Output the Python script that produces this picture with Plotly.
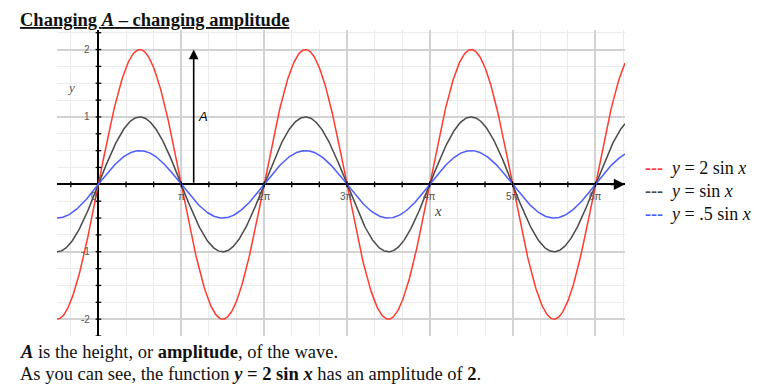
import numpy as np
import plotly.graph_objects as go

PI = np.pi
# Data
amplitudes = [2, 1, 0.5]
series_names = ["y = 2 sin x", "y = sin x", "y = .5 sin x"]
legend_html = ["<i>y</i> = 2 sin <i>x</i>", "<i>y</i> = sin <i>x</i>", "<i>y</i> = .5 sin <i>x</i>"]
colors = ["#ff3b30", "#4a4a4a", "#4d5cff"]
x_tick_multiples = [0, 1, 2, 3, 4, 5, 6]
x_tick_labels = ["0", "π", "2π", "3π", "4π", "5π", "6π"]
y_tick_values = [-2, -1, 1, 2]
y_tick_labels = ["-2", "-1", "1", "2"]

x_min, x_max = -PI / 2, 6 * PI + 1.12
y_min, y_max = -2.25, 2.29

xs = np.linspace(x_min, x_max, 800)

fig = go.Figure()
for a, name, c in zip(amplitudes, series_names, colors):
    fig.add_trace(go.Scatter(x=xs, y=a * np.sin(xs), mode="lines", name=name,
                             line=dict(color=c, width=1.5), hoverinfo="skip"))

# axis tick marks
xt = [k * PI / 3 for k in range(-1, 20) if k != 0 and k * PI / 3 < x_max - 0.3]
fig.add_trace(go.Scatter(x=xt, y=[0] * len(xt), mode="markers",
                         marker=dict(symbol="line-ns", size=4, line=dict(color="black", width=1.3)),
                         hoverinfo="skip"))
yt = [k * 0.25 for k in range(-9, 10) if k != 0]
fig.add_trace(go.Scatter(x=[0] * len(yt), y=yt, mode="markers",
                         marker=dict(symbol="line-ew", size=4, line=dict(color="black", width=1.3)),
                         hoverinfo="skip"))

fig.update_xaxes(range=[x_min, x_max], tick0=0, dtick=PI, showticklabels=False,
                 showgrid=True, gridcolor="#d2d2d2", gridwidth=1.5,
                 minor=dict(tick0=0, dtick=PI / 3, showgrid=True, gridcolor="#ebebeb", gridwidth=1),
                 zeroline=True, zerolinecolor="black", zerolinewidth=1.8, ticks="",
                 showline=False, fixedrange=True)
fig.update_yaxes(range=[y_min, y_max], tick0=0, dtick=1, showticklabels=False,
                 showgrid=True, gridcolor="#d2d2d2", gridwidth=1.5,
                 minor=dict(tick0=0, dtick=0.25, showgrid=True, gridcolor="#ebebeb", gridwidth=1),
                 zeroline=True, zerolinecolor="black", zerolinewidth=1.8, ticks="",
                 showline=False, fixedrange=True)

ann = []
tick_font = dict(family="Liberation Sans, Arial", size=10, color="#555")
for m, lab in zip(x_tick_multiples, x_tick_labels):
    ann.append(dict(x=m * PI, y=0, xref="x", yref="y", text=lab, showarrow=False,
                    xanchor="right" if m == 0 else "center", yanchor="top",
                    xshift=1 if m == 0 else 0, yshift=-5, font=tick_font))
for v, lab in zip(y_tick_values, y_tick_labels):
    ann.append(dict(x=0, y=v, xref="x", yref="y", text=lab, showarrow=False,
                    xanchor="right", yanchor="middle", xshift=-6, font=tick_font))

# axis titles
ann.append(dict(x=-1.03, y=1.44, xref="x", yref="y", text="<i>y</i>", showarrow=False,
                font=dict(family="Liberation Serif", size=13, color="#555")))
ann.append(dict(x=4.1 * PI, y=-0.4, xref="x", yref="y", text="<i>x</i>", showarrow=False,
                font=dict(family="Liberation Serif", size=15, color="#444")))

# x-axis arrow head
ann.append(dict(x=x_max, y=0, xref="x", yref="y", ax=x_max - 0.6, ay=0, axref="x", ayref="y",
                text="", showarrow=True, arrowhead=2, arrowsize=1.4, arrowwidth=1.6,
                arrowcolor="black"))

# amplitude arrow
ax_pos = 1.15 * PI
ann.append(dict(x=ax_pos, y=2, xref="x", yref="y", ax=ax_pos, ay=0, axref="x", ayref="y",
                text="", showarrow=True, arrowhead=2, arrowsize=1.2, arrowwidth=1.6,
                arrowcolor="black"))
ann.append(dict(x=ax_pos, y=1, xref="x", yref="y", text="<i>A</i>", showarrow=False,
                xanchor="left", xshift=2, font=dict(family="Liberation Sans, Arial", size=13, color="black")))

# legend
for i, (txt, c) in enumerate(zip(legend_html, colors)):
    ann.append(dict(x=643, y=168 + 23 * i, xref="paper", yref="paper", text=
                    f"<span style='color:{c}'><b>---</b></span>  {txt}", showarrow=False,
                    xanchor="left", yanchor="middle",
                    font=dict(family="Liberation Serif", size=18, color="#111")))

# title and caption
ann.append(dict(x=18, y=20, xref="paper", yref="paper", xanchor="left", yanchor="middle",
                text="<b><u>Changing <i>A</i> – changing amplitude</u></b>", showarrow=False,
                font=dict(family="Liberation Serif", size=18.5, color="#111")))
ann.append(dict(x=18, y=352, xref="paper", yref="paper", xanchor="left", yanchor="middle",
                text="<b><i>A</i></b> is the height, or <b>amplitude</b>, of the wave.", showarrow=False,
                font=dict(family="Liberation Serif", size=18.5, color="#111")))
ann.append(dict(x=18, y=374, xref="paper", yref="paper", xanchor="left", yanchor="middle",
                text="As you can see, the function <b><i>y</i> = 2 sin <i>x</i></b> has an amplitude of <b>2</b>.",
                showarrow=False, font=dict(family="Liberation Serif", size=18.5, color="#111")))

# convert paper pixel annotations to paper fractions
W, H = 777, 392
L, R, T, B = 57, 152, 30, 56
pw, ph = W - L - R, H - T - B
for a in ann:
    if a.get("xref") == "paper":
        a["x"] = (a["x"] - L) / pw
        a["y"] = 1 - (a["y"] - T) / ph

fig.update_layout(width=W, height=H, margin=dict(l=L, r=R, t=T, b=B),
                  plot_bgcolor="white", paper_bgcolor="white", showlegend=False,
                  annotations=ann)
fig.write_html("out.html", config={"displayModeBar": False})
